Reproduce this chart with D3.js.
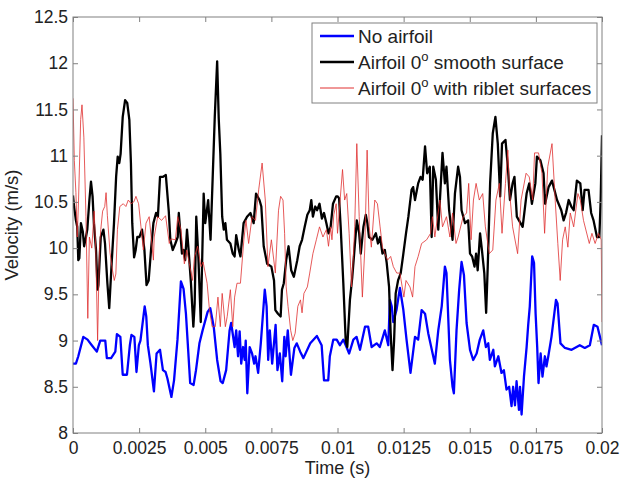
<!DOCTYPE html>
<html>
<head>
<meta charset="utf-8">
<script src="https://cdn.jsdelivr.net/npm/d3@7"></script>
<style>
  body { margin: 0; background: #fff; }
  svg text { font-family: Arial, "Liberation Sans", sans-serif; fill: #222; }
</style>
</head>
<body>
<div id="chart"></div>
<script>
// x tick values (s) and their labels
const xTicks = [0, 0.0025, 0.005, 0.0075, 0.01, 0.0125, 0.015, 0.0175, 0.02];
const xTickLabels = ["0", "0.0025", "0.005", "0.0075", "0.01", "0.0125", "0.015", "0.0175", "0.02"];
const yTicks = [8, 8.5, 9, 9.5, 10, 10.5, 11, 11.5, 12, 12.5];
const yTickLabels = ["8", "8.5", "9", "9.5", "10", "10.5", "11", "11.5", "12", "12.5"];

const seriesNames = ["No airfoil", "Airfoil 0|o| smooth surface", "Airfoil 0|o| with riblet surfaces"];

// No airfoil -- time in ms, velocity in m/s
const noAirfoilTime = [0,0.11,0.2,0.39,0.55,0.71,0.9,1.03,1.22,1.28,1.44,1.6,1.66,1.79,1.88,2.04,2.15,2.21,2.32,2.4,2.49,2.55,2.71,2.77,2.83,2.93,3.06,3.16,3.29,3.4,3.5,3.57,3.72,3.82,3.95,4.08,4.18,4.27,4.33,4.43,4.56,4.65,4.78,4.9,5.09,5.19,5.32,5.45,5.58,5.66,5.79,5.92,5.98,6.11,6.17,6.24,6.3,6.36,6.43,6.49,6.53,6.59,6.68,6.77,6.85,6.9,7.0,7.1,7.25,7.32,7.38,7.44,7.53,7.66,7.73,7.82,7.91,7.99,8.04,8.12,8.24,8.37,8.46,8.59,8.71,8.97,9.22,9.4,9.49,9.65,9.71,9.84,9.97,10.09,10.22,10.34,10.44,10.6,10.72,10.85,11.04,11.16,11.29,11.48,11.6,11.79,11.92,11.98,12.05,12.11,12.23,12.36,12.49,12.61,12.76,12.93,13.05,13.18,13.31,13.43,13.68,13.81,13.94,14.06,14.12,14.25,14.35,14.4,14.5,14.6,14.69,14.78,14.88,15.01,15.13,15.26,15.38,15.51,15.61,15.7,15.76,15.89,15.95,16.08,16.2,16.29,16.39,16.49,16.58,16.64,16.71,16.77,16.86,16.9,16.96,17.05,17.15,17.21,17.27,17.36,17.43,17.49,17.55,17.6,17.68,17.75,17.84,17.9,17.97,18.09,18.26,18.32,18.43,18.6,18.85,19.16,19.35,19.54,19.69,19.83,20.0];
const noAirfoilVel = [8.75,8.75,8.83,9.04,9.01,8.95,8.88,9.0,9.0,8.81,8.81,8.88,9.07,9.04,8.63,8.63,8.95,9.06,9.04,8.66,8.95,9.0,9.37,9.26,8.95,8.75,8.45,8.86,8.9,8.68,8.66,8.59,8.39,8.57,9.01,9.64,9.56,9.29,9.01,8.54,8.52,8.68,8.97,9.11,9.31,9.35,9.15,8.79,8.56,8.54,8.68,9.11,9.19,8.93,9.11,8.83,9.1,8.75,8.93,8.79,9.0,8.43,8.93,8.86,8.75,8.83,8.65,8.97,9.55,9.37,8.79,9.11,8.75,9.17,8.68,8.86,8.56,9.04,8.83,9.11,8.63,8.92,8.97,8.88,8.81,8.97,9.05,8.95,8.57,8.57,8.83,9.01,9.01,8.95,9.01,8.93,8.86,9.01,9.04,8.9,9.15,9.15,8.93,8.97,8.93,9.11,8.95,9.44,9.37,9.2,9.33,9.57,9.33,9.01,8.65,9.04,9.01,9.33,9.29,9.08,8.75,9.11,9.37,9.8,9.73,8.79,8.5,8.43,9.11,9.55,9.85,9.71,9.19,8.9,8.79,8.86,9.01,9.11,8.93,8.97,8.79,8.9,8.72,8.83,8.65,8.68,8.47,8.5,8.29,8.5,8.3,8.56,8.25,8.5,8.2,8.61,8.93,9.17,9.37,9.91,9.84,9.29,8.93,8.54,8.86,8.61,8.83,8.72,8.83,9.04,9.44,9.4,8.97,8.92,8.9,8.95,8.92,8.95,9.17,9.15,8.95];

// Airfoil 0 deg smooth surface
const smoothTime = [0,0.04,0.11,0.16,0.2,0.24,0.3,0.37,0.42,0.49,0.54,0.62,0.68,0.74,0.79,0.87,0.93,0.96,1.05,1.15,1.21,1.3,1.37,1.46,1.55,1.63,1.69,1.75,1.8,1.88,1.97,2.05,2.13,2.19,2.24,2.31,2.37,2.43,2.51,2.61,2.7,2.78,2.86,2.95,3.04,3.14,3.21,3.29,3.39,3.51,3.62,3.68,3.77,3.87,3.96,4.0,4.06,4.12,4.18,4.24,4.31,4.37,4.46,4.55,4.6,4.66,4.74,4.83,4.94,5.0,5.11,5.2,5.36,5.45,5.51,5.57,5.64,5.7,5.76,5.82,5.95,6.04,6.11,6.17,6.27,6.33,6.45,6.58,6.71,6.83,6.92,7.05,7.12,7.21,7.34,7.5,7.6,7.65,7.75,7.85,7.9,7.97,8.06,8.15,8.25,8.35,8.48,8.57,8.66,8.76,8.86,8.95,9.01,9.07,9.16,9.23,9.32,9.41,9.49,9.58,9.66,9.74,9.83,9.95,10.0,10.06,10.12,10.22,10.31,10.37,10.47,10.56,10.63,10.73,10.82,10.88,10.98,11.07,11.13,11.19,11.32,11.45,11.53,11.61,11.7,11.79,11.86,11.95,12.01,12.08,12.14,12.2,12.29,12.39,12.49,12.59,12.68,12.8,12.86,12.93,13.05,13.14,13.22,13.31,13.39,13.49,13.56,13.62,13.72,13.81,13.97,14.06,14.12,14.22,14.35,14.44,14.56,14.63,14.69,14.82,14.94,15.01,15.09,15.18,15.24,15.3,15.39,15.46,15.55,15.62,15.68,15.77,15.87,15.97,16.06,16.15,16.22,16.35,16.44,16.52,16.62,16.69,16.78,17.0,17.15,17.25,17.35,17.48,17.54,17.67,17.79,17.85,17.98,18.11,18.3,18.46,18.55,18.64,18.74,18.84,18.93,19.05,19.18,19.27,19.34,19.49,19.59,19.68,19.81,19.9,19.95,20.0];
const smoothVel = [10.57,10.45,10.3,10.23,9.87,9.89,10.27,10.18,10.02,10.12,10.2,10.52,10.72,10.56,10.27,9.98,9.55,9.6,10.12,10.2,10.05,9.62,9.35,9.83,10.27,10.77,10.99,10.92,11.02,11.42,11.6,11.57,11.39,10.92,10.27,9.9,9.98,10.12,10.12,10.2,9.98,9.6,9.65,9.98,10.27,10.38,10.34,10.77,10.77,10.79,10.4,10.09,9.98,10.05,10.12,10.38,10.16,9.94,9.98,9.87,10.2,9.98,9.62,9.15,9.4,10.34,9.9,9.2,10.59,10.27,10.52,10.09,11.42,12.02,11.4,11.02,10.34,10.2,10.27,10.09,10.05,9.94,9.91,10.14,9.98,9.91,10.27,10.34,10.38,10.27,10.59,10.52,10.45,10.02,9.83,9.8,9.65,9.33,9.29,9.26,9.55,9.62,9.87,10.02,9.76,9.69,9.87,10.02,10.09,10.23,10.36,10.41,10.52,10.34,10.45,10.41,10.48,10.32,10.38,10.27,10.16,10.23,10.48,10.56,10.56,10.54,10.23,9.62,9.0,8.93,9.44,9.69,9.94,10.3,10.16,9.94,10.23,10.36,10.27,10.12,10.09,10.16,10.05,10.12,9.94,9.98,9.84,9.58,9.08,8.68,9.0,9.51,9.65,9.73,9.94,10.16,10.34,10.63,10.66,10.52,10.7,10.77,10.74,11.1,10.81,10.88,10.12,10.88,10.74,10.2,11.03,10.7,10.88,10.41,10.09,10.59,10.88,10.77,10.41,10.27,10.3,9.94,9.91,9.8,9.94,9.76,10.16,9.98,9.73,9.3,9.8,10.7,11.24,11.42,11.13,10.56,11.13,11.17,10.88,10.52,10.7,10.77,10.34,10.23,10.59,10.7,10.48,10.7,10.99,10.95,10.81,10.48,10.66,10.73,10.52,10.41,10.3,10.38,10.52,10.45,10.41,10.73,10.7,10.41,10.63,10.63,10.38,10.3,10.12,10.12,10.52,11.22];

// Airfoil 0 deg with riblet surfaces
const ribletTime = [0,0.05,0.11,0.16,0.21,0.29,0.34,0.41,0.49,0.56,0.62,0.71,0.8,0.86,0.93,1.0,1.05,1.12,1.2,1.25,1.3,1.4,1.47,1.56,1.62,1.68,1.77,1.9,2.0,2.09,2.2,2.3,2.38,2.48,2.57,2.66,2.76,2.88,3.04,3.07,3.2,3.35,3.5,3.64,3.7,3.87,3.96,4.08,4.21,4.3,4.4,4.52,4.59,4.71,4.84,4.92,5.07,5.16,5.26,5.38,5.48,5.57,5.64,5.76,5.83,5.95,6.04,6.11,6.2,6.33,6.46,6.54,6.64,6.77,6.9,7.02,7.15,7.27,7.37,7.5,7.65,7.77,7.85,7.94,8.0,8.06,8.13,8.23,8.31,8.4,8.5,8.6,8.66,8.73,8.86,8.95,9.07,9.2,9.32,9.45,9.58,9.66,9.74,9.79,9.86,9.95,10.0,10.19,10.27,10.35,10.44,10.53,10.6,10.65,10.73,10.82,10.94,11.03,11.12,11.2,11.28,11.41,11.51,11.61,11.7,11.79,11.89,12.01,12.11,12.24,12.36,12.51,12.59,12.74,12.84,12.93,13.05,13.18,13.37,13.52,13.59,13.68,13.87,13.97,14.12,14.25,14.35,14.48,14.56,14.75,14.88,14.96,15.05,15.14,15.24,15.36,15.49,15.59,15.74,15.87,15.99,16.12,16.22,16.35,16.44,16.5,16.62,16.81,16.94,17.13,17.25,17.38,17.45,17.6,17.73,17.83,17.95,18.11,18.23,18.33,18.42,18.51,18.61,18.71,18.8,18.93,19.09,19.18,19.3,19.52,19.62,19.74,19.87,19.97,20.0];
const ribletVel = [11.62,10.95,10.6,10.12,10.52,11.39,11.55,11.2,10.34,9.24,10.12,10.0,10.4,10.0,9.0,10.0,10.2,10.4,10.45,10.6,10.35,9.95,9.8,9.65,9.72,10.2,10.45,10.48,10.45,10.52,10.48,10.5,10.56,10.48,10.23,9.98,10.27,10.34,9.87,10.12,10.34,10.3,10.35,10.05,10.1,10.09,10.34,10.2,9.83,9.98,9.83,9.65,9.9,10.02,9.8,9.85,9.62,9.33,9.15,9.15,9.47,9.15,9.51,9.15,9.26,9.55,9.15,9.47,9.62,9.62,10.09,10.3,10.05,10.34,10.3,10.63,10.92,10.52,9.8,10.09,9.73,10.41,10.56,10.52,10.16,9.58,9.37,9.11,9.0,9.08,9.37,9.44,9.3,9.51,9.58,9.73,9.94,10.09,10.23,10.12,10.2,10.02,10.23,10.09,10.36,10.48,10.16,10.85,10.52,10.59,10.16,9.58,9.91,10.23,11.13,10.34,9.47,9.98,11.06,10.23,10.01,10.52,10.48,10.23,10.01,9.94,9.87,9.91,9.8,9.73,9.73,9.47,9.65,9.58,9.47,9.8,9.91,10.05,10.09,10.16,10.34,10.12,10.52,10.23,10.34,10.12,10.38,10.05,10.12,10.34,10.38,10.7,10.09,10.52,10.7,10.52,10.59,10.23,9.94,9.98,10.52,10.7,10.16,10.7,11.06,10.63,10.23,9.94,10.52,10.81,10.77,10.52,11.03,11.03,10.81,10.16,10.88,11.13,10.52,10.05,9.65,10.09,10.23,10.01,10.38,10.23,10.59,10.52,10.3,10.05,10.16,10.05,10.16,10.09,9.2];

const seriesColors = ["#0000ff", "#000000", "#e03030"];
const seriesWidths = [2.3, 2.3, 0.8];

window.addEventListener('DOMContentLoaded', function() {
  const totalWidth = 622, totalHeight = 479;
  const margin = {top: 17, right: 20, bottom: 46, left: 73};
  const width = totalWidth - margin.left - margin.right;
  const height = totalHeight - margin.top - margin.bottom;

  const root = d3.select("#chart")
    .append("svg")
    .attr("width", totalWidth)
    .attr("height", totalHeight);

  const svg = root.append("g")
    .attr("transform", `translate(${margin.left},${margin.top})`);

  const xScale = d3.scaleLinear().domain([0, 0.02]).range([0, width]);
  const yScale = d3.scaleLinear().domain([8, 12.5]).range([height, 0]);

  // zip time/velocity arrays into point lists
  function zip(ts, vs) {
    return ts.map((t, i) => ({t: t / 1000, v: vs[i]}));
  }
  const series = [
    zip(noAirfoilTime, noAirfoilVel),
    zip(smoothTime, smoothVel),
    zip(ribletTime, ribletVel)
  ];

  const line = d3.line()
    .x(d => xScale(d.t))
    .y(d => yScale(d.v));

  const plot = svg.append("g");
  plot.append("clipPath").attr("id", "clip")
    .append("rect").attr("width", width).attr("height", height);

  series.forEach(function(data, i) {
    plot.append("path")
      .datum(data)
      .attr("clip-path", "url(#clip)")
      .attr("fill", "none")
      .attr("stroke", seriesColors[i])
      .attr("stroke-width", seriesWidths[i])
      .attr("stroke-linejoin", "round")
      .attr("d", line);
  });

  const axisColor = "#808080";

  // bottom axis with labels, ticks pointing inward
  const xAxis = svg.append("g")
    .attr("transform", `translate(0,${height})`)
    .call(d3.axisBottom(xScale)
      .tickValues(xTicks)
      .tickFormat((d, i) => xTickLabels[i])
      .tickSizeInner(-5)
      .tickSizeOuter(0)
      .tickPadding(9));
  // top axis, ticks only
  const xTop = svg.append("g")
    .call(d3.axisTop(xScale).tickValues(xTicks).tickFormat("").tickSizeInner(-5).tickSizeOuter(0));

  const yAxis = svg.append("g")
    .call(d3.axisLeft(yScale)
      .tickValues(yTicks)
      .tickFormat((d, i) => yTickLabels[i])
      .tickSizeInner(-5)
      .tickSizeOuter(0)
      .tickPadding(5));
  const yRight = svg.append("g")
    .attr("transform", `translate(${width},0)`)
    .call(d3.axisRight(yScale).tickValues(yTicks).tickFormat("").tickSizeInner(-5).tickSizeOuter(0));

  [xAxis, xTop, yAxis, yRight].forEach(function(g) {
    g.select(".domain").remove();
    g.selectAll("line").attr("stroke", axisColor);
    g.selectAll("text")
      .style("font-size", "17.5px")
      .style("font-family", "Arial, 'Liberation Sans', sans-serif")
      .attr("fill", "#222");
  });

  svg.append("rect")
    .attr("width", width)
    .attr("height", height)
    .attr("fill", "none")
    .attr("stroke", axisColor)
    .attr("stroke-width", 1);

  // axis labels
  svg.append("text")
    .attr("x", width / 2)
    .attr("y", height + 41)
    .attr("text-anchor", "middle")
    .style("font-size", "18px")
    .text("Time (s)");

  svg.append("text")
    .attr("transform", "rotate(-90)")
    .attr("x", -height / 2)
    .attr("y", -55)
    .attr("text-anchor", "middle")
    .style("font-size", "18.5px")
    .text("Velocity (m/s)");

  // legend
  const legend = root.append("g").attr("transform", "translate(312,23)");
  legend.append("rect")
    .attr("width", 285)
    .attr("height", 80)
    .attr("fill", "#fff")
    .attr("stroke", axisColor);

  seriesNames.forEach(function(name, i) {
    const yPos = 13 + i * 26;
    legend.append("line")
      .attr("x1", 8).attr("x2", 42)
      .attr("y1", yPos).attr("y2", yPos)
      .attr("stroke", seriesColors[i])
      .attr("stroke-width", seriesWidths[i] < 1 ? 1 : 2.3);

    const parts = name.split("|");
    const txt = legend.append("text")
      .attr("x", 46)
      .attr("y", yPos + 7)
      .style("font-size", "19px");
    txt.append("tspan").text(parts[0]);
    if (parts.length > 1) {
      txt.append("tspan").attr("dy", -8).style("font-size", "13px").text(parts[1]);
      txt.append("tspan").attr("dy", 8).text(parts[2]);
    }
  });
});
</script>
</body>
</html>
